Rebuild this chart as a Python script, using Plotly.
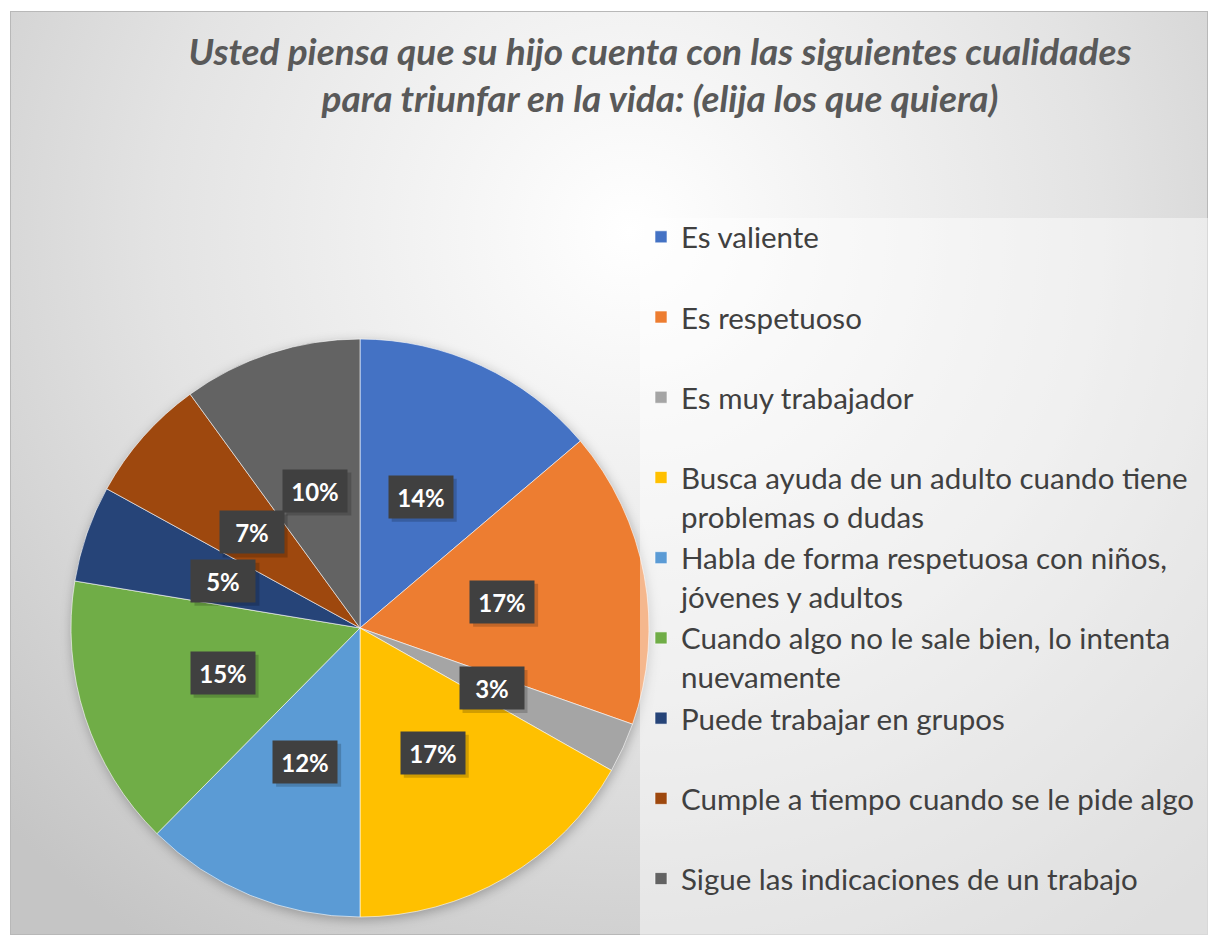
import base64
import math
import plotly.graph_objects as go

# ---------------- data ----------------
title_lines = [
    "Usted piensa que su hijo cuenta con las siguientes cualidades",
    "para triunfar en la vida: (elija los que quiera)",
]
categories = [
    "Es valiente",
    "Es respetuoso",
    "Es muy trabajador",
    "Busca ayuda de un adulto cuando tiene<br>problemas o dudas",
    "Habla de forma respetuosa con niños,<br>jóvenes y adultos",
    "Cuando algo no le sale bien, lo intenta<br>nuevamente",
    "Puede trabajar en grupos",
    "Cumple a tiempo cuando se le pide algo",
    "Sigue las indicaciones de un trabajo",
]
values = [13.8, 16.6, 2.8, 16.8, 12.4, 15.2, 5.4, 7.0, 10.0]
colors = ["#4472C4", "#ED7D31", "#A5A5A5", "#FFC000", "#5B9BD5",
          "#70AD47", "#264478", "#9E480E", "#636363"]

# ---------------- layout constants ----------------
W, H = 1213, 935
FONT = "Lato"

def px_x(p):
    return p / W

def px_y(p):
    return 1 - p / H

def b64svg(s):
    return "data:image/svg+xml;base64," + base64.b64encode(s.encode("utf-8")).decode("ascii")

# pie placement (pixels)
pie_cx, pie_cy, pie_r = 360, 628, 289
dom_x = [px_x(pie_cx - pie_r), px_x(pie_cx + pie_r)]
dom_y = [px_y(pie_cy + pie_r), px_y(pie_cy - pie_r)]

# legend display labels: pad single-line entries with a blank line so entries are evenly spaced
def legend_label(lab, last):
    parts = lab.split("<br>")
    txt = "<br>".join(f'<span style="font-size:29.5px">{p}</span>' for p in parts)
    if len(parts) == 1 and not last:
        txt += "<br>\u00a0"
    return txt

legend_labels = [legend_label(c, i == len(categories) - 1) for i, c in enumerate(categories)]

fig = go.Figure()
fig.add_trace(go.Pie(
    labels=legend_labels,
    values=values,
    sort=False,
    direction="clockwise",
    rotation=0,
    marker=dict(colors=colors, line=dict(color="rgba(255,255,255,0.8)", width=0.75)),
    textinfo="none",
    hovertext=[c.replace("<br>", " ") for c in categories],
    hoverinfo="text+percent",
    domain=dict(x=dom_x, y=dom_y),
    showlegend=True,
))

# data labels (dark boxes at half radius, mid-angle) with a soft shadow rectangle
total = sum(values)
annotations = []
shapes = [dict(type="rect", xref="paper", yref="paper", x0=px_x(640), x1=px_x(1208),
               y0=px_y(935), y1=px_y(218), fillcolor="rgba(255,255,255,0.45)",
               line=dict(width=0), layer="above")]
BOX_W, BOX_H, BOX_PAD = 52, 30, 6
half_w = BOX_W / 2 + BOX_PAD
half_h = BOX_H / 2 + BOX_PAD
cum = 0.0
for v in values:
    mid = (cum + v / 2) / total * 2 * math.pi
    cum += v
    lx = pie_cx + 0.5 * pie_r * math.sin(mid)
    ly = pie_cy - 0.5 * pie_r * math.cos(mid)
    label = f"{round(v / total * 100)}%"
    shapes.append(dict(
        type="rect", xref="paper", yref="paper", xsizemode="pixel", ysizemode="pixel",
        xanchor=px_x(lx), yanchor=px_y(ly),
        x0=-half_w + 3, x1=half_w + 4, y0=-half_h - 4, y1=half_h - 3,
        fillcolor="rgba(0,0,0,0.18)", line=dict(width=0), layer="above",
    ))
    annotations.append(dict(
        x=px_x(lx), y=px_y(ly), xref="paper", yref="paper", showarrow=False,
        xanchor="center", yanchor="middle", text=label,
        width=BOX_W, height=BOX_H, borderpad=BOX_PAD,
        font=dict(family=FONT, size=24, color="white", weight="bold"),
        bgcolor="#404040",
    ))

# background gradient as svg image
bg_svg = '''<svg xmlns="http://www.w3.org/2000/svg" width="1198" height="924" viewBox="0 0 1198 924" preserveAspectRatio="none">
<defs><radialGradient id="g" gradientUnits="userSpaceOnUse" cx="620" cy="220" r="860">
<stop offset="0" stop-color="#ffffff"/><stop offset="0.55" stop-color="#e3e3e3"/><stop offset="1" stop-color="#c5c5c5"/>
</radialGradient></defs>
<rect x="0" y="0" width="1198" height="924" fill="url(#g)" stroke="#b8b8b8" stroke-width="2"/>
</svg>'''

# soft shadow behind the pie
pad = 30
sh_size = 2 * (pie_r + pad)
shadow_svg = f'''<svg xmlns="http://www.w3.org/2000/svg" width="{sh_size}" height="{sh_size}" viewBox="0 0 {sh_size} {sh_size}">
<defs><filter id="b" x="-20%" y="-20%" width="140%" height="140%"><feGaussianBlur stdDeviation="6"/></filter></defs>
<circle cx="{pie_r + pad + 1}" cy="{pie_r + pad + 3}" r="{pie_r}" fill="#000" fill-opacity="0.28" filter="url(#b)"/>
</svg>'''

title_html = "<br>".join(f'<span style="font-size:37px">{t}</span>' for t in title_lines)

fig.update_layout(
    width=W, height=H,
    margin=dict(l=0, r=0, t=0, b=0, autoexpand=False),
    paper_bgcolor="white",
    plot_bgcolor="rgba(0,0,0,0)",
    font=dict(family=FONT, color="#404040"),
    title=dict(
        text=title_html,
        x=px_x(660), xanchor="center", y=px_y(65), yanchor="middle",
        xref="paper", yref="paper",
        font=dict(family=FONT, size=36, color="#595959", weight="bold", style="italic"),
    ),
    images=[
        dict(source=b64svg(bg_svg), xref="paper", yref="paper", x=px_x(10), y=px_y(11),
             sizex=1198 / W, sizey=924 / H, sizing="stretch", layer="below",
             xanchor="left", yanchor="top"),
        dict(source=b64svg(shadow_svg), xref="paper", yref="paper",
             x=px_x(pie_cx - pie_r - pad), y=px_y(pie_cy - pie_r - pad),
             sizex=sh_size / W, sizey=sh_size / H, sizing="stretch", layer="below",
             xanchor="left", yanchor="top"),
    ],
    shapes=shapes,
    legend=dict(
        x=px_x(641), y=px_y(211), xanchor="left", yanchor="top",
        bgcolor="rgba(0,0,0,0)", borderwidth=0,
        font=dict(family=FONT, size=29.7, color="#404040"),
        valign="top", traceorder="normal",
    ),
    annotations=annotations,
)

fig.write_html("out.html", config={"displayModeBar": False},
               post_script="document.body.style.margin='0';")
